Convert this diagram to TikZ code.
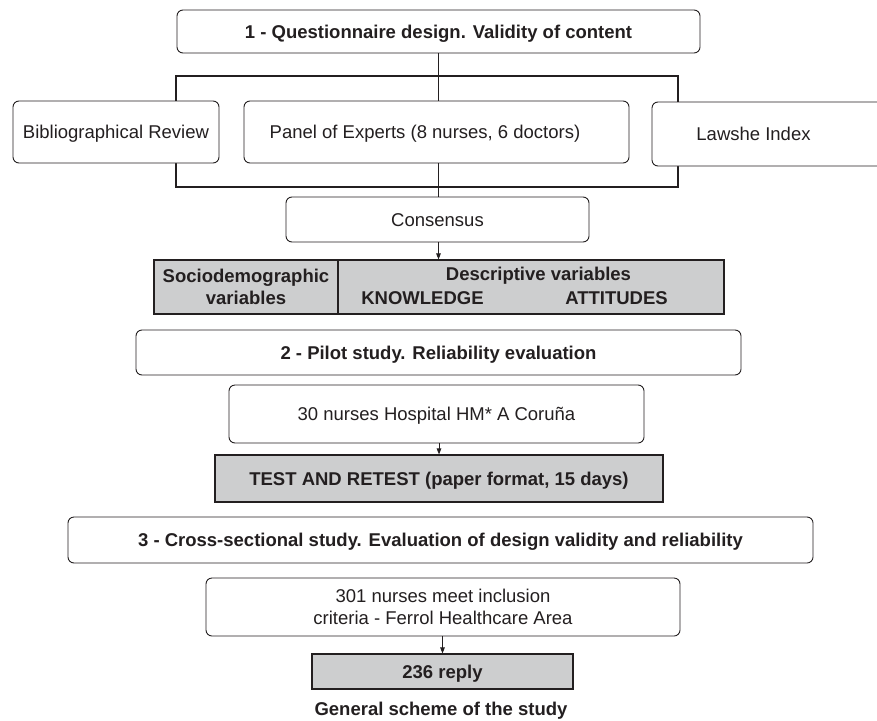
\documentclass[tikz,border=0pt]{standalone}
\usepackage{fontspec}
\setmainfont{Liberation Sans}
\usetikzlibrary{arrows.meta}
\definecolor{ink}{RGB}{35,31,32}
\definecolor{boxgrey}{RGB}{205,206,207}
\begin{document}
\begin{tikzpicture}[x=1pt,y=-1pt,
  every node/.style={font=\fontsize{18.5}{22}\selectfont, text=ink, inner sep=0pt},
  oneline/.style={text height=13pt, text depth=0pt},
  rbox/.style={draw=ink, line width=0.9pt, rounded corners=6pt, fill=white},
  gbox/.style={draw=ink, line width=1.1pt, fill=boxgrey, font=\fontsize{18.5}{22}\selectfont\bfseries},
  bold/.style={font=\fontsize{18.5}{22}\selectfont\bfseries},
  frameline/.style={draw=ink, line width=2.5pt},
  link/.style={draw=ink, line width=0.9pt},
  arrowlink/.style={draw=ink, line width=0.9pt, -{Triangle[length=6pt,width=4.5pt]}}
]
\useasboundingbox (0,0) rectangle (877,720);
\clip (0,0) rectangle (877,720);
\fill[white] (0,0) rectangle (877,720);

% thick frame
\draw[frameline] (176,76) rectangle (678,187);

% step 1
\node[rbox, oneline, bold, minimum width=523pt, minimum height=43pt] (box1) at (438.5,31.5) {1 - Questionnaire design. Validity of content};
\node[rbox, oneline, minimum width=206pt, minimum height=62pt] (bib) at (116,132) {Bibliographical Review};
\node[rbox, oneline, minimum width=385pt, minimum height=62pt] (panel) at (436.5,132) {Panel of Experts (8 nurses, 6 doctors)\hspace*{23pt}};
\node[rbox, oneline, minimum width=248pt, minimum height=64pt] (lawshe) at (776,134) {Lawshe Index\hspace*{45pt}};
\node[rbox, oneline, minimum width=303pt, minimum height=45pt] (cons) at (437.5,219.5) {Consensus};

% variables
\node[gbox, align=center, minimum width=184pt, minimum height=54pt] (socio) at (246,287) {Sociodemographic\\variables};
\node[gbox, minimum width=386pt, minimum height=54pt] (desc) at (531,287) {};
\node[bold, anchor=base] (desctitle) at (538.5,280) {Descriptive variables};
\node[bold, anchor=base] (know) at (422.5,304) {KNOWLEDGE};
\node[bold, anchor=base] (att) at (616.5,304) {ATTITUDES};

% step 2
\node[rbox, oneline, bold, minimum width=605pt, minimum height=45pt] (box2) at (438.5,352.5) {2 - Pilot study. Reliability evaluation};
\node[rbox, oneline, minimum width=415pt, minimum height=58pt] (n30) at (436.5,414) {30 nurses Hospital HM* A Coruña};
\node[gbox, oneline, minimum width=448pt, minimum height=47pt] (test) at (439,478.5) {TEST AND RETEST (paper format, 15 days)};

% step 3
\node[rbox, oneline, bold, minimum width=745pt, minimum height=46pt] (box3) at (440.5,540) {3 - Cross-sectional study. Evaluation of design validity and reliability};
\node[rbox, align=center, minimum width=474pt, minimum height=58pt] (n301) at (443,607) {301 nurses meet inclusion\\criteria - Ferrol Healthcare Area};
\node[gbox, oneline, minimum width=261pt, minimum height=35pt] (r236) at (442.5,671.5) {236 reply};

\node[bold, oneline] (caption) at (441,708.5) {General scheme of the study};

% connectors
\draw[link] (box1.south) -- (box1.south |- panel.north);
\draw[link] (box1.south |- panel.south) -- (box1.south |- cons.north);
\draw[arrowlink] (cons.south -| box1.south) -- (box1.south |- desc.north);
\draw[arrowlink] (n30.south -| test.north) -- (test.north);
\draw[arrowlink] (n301.south -| r236.north) -- (r236.north);
\end{tikzpicture}
\end{document}
